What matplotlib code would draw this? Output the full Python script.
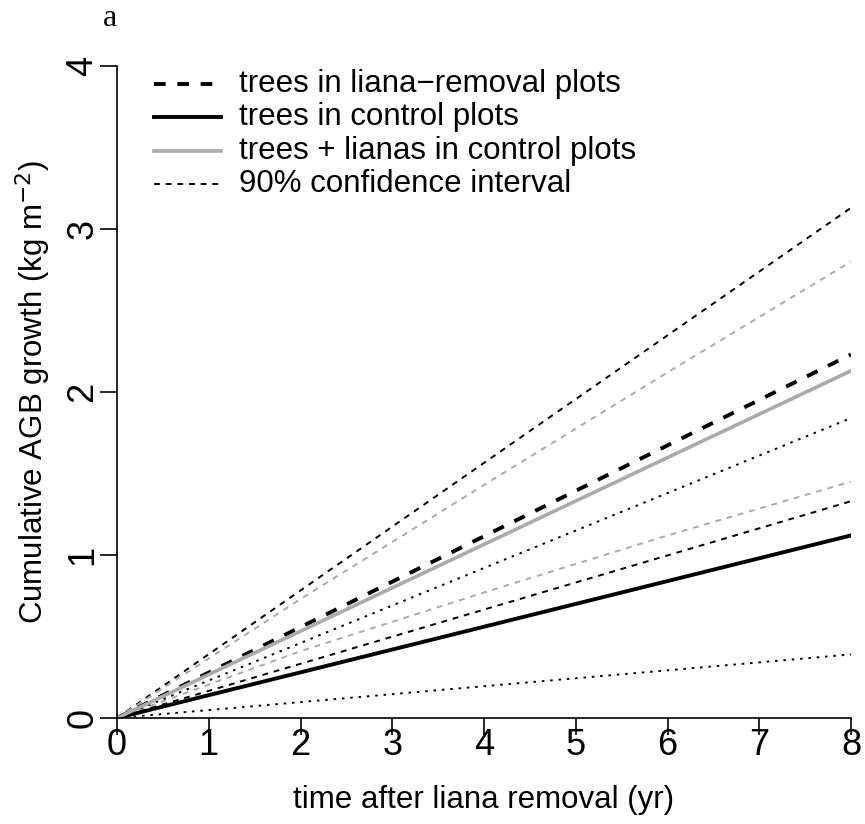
import matplotlib
matplotlib.use('Agg')
import matplotlib.pyplot as plt

plt.rcParams['font.family'] = ['Liberation Sans', 'DejaVu Sans']

# values (kg m-2)
years = [0, 8]
removal_fit = [0, 2.23]
removal_lo = [0, 1.33]
removal_hi = [0, 3.13]
control_fit = [0, 1.12]
control_lo = [0, 0.39]
control_hi = [0, 1.84]
total_fit = [0, 2.13]
total_years = [0, 2, 4, 6, 8]
total_lo = [0, 0.41, 0.77, 1.12, 1.45]
total_hi = [0, 0.73, 1.43, 2.12, 2.80]

legend_labels = ['trees in liana\u2212removal plots', 'trees in control plots',
                 'trees + lianas in control plots', '90% confidence interval']

gray = '#aaaaaa'
fs = 22.5

fig = plt.figure(figsize=(8.65, 8.24), dpi=100)
ax = fig.add_axes([117 / 865, 106 / 824, 734 / 865, 652 / 824])

# confidence intervals
ax.plot(years, removal_hi, color='black', lw=1.4, ls=(0, (3, 3)))
ax.plot(years, removal_lo, color='black', lw=1.4, ls=(0, (3, 3)))
ax.plot(total_years, total_hi, color=gray, lw=1.4, ls=(0, (3, 3)))
ax.plot(total_years, total_lo, color=gray, lw=1.4, ls=(0, (3, 3)))
ax.plot(years, control_hi, color='black', lw=1.4, ls=(0, (1.3, 3)))
ax.plot(years, control_lo, color='black', lw=1.4, ls=(0, (1.3, 3)))

# fitted lines
ax.plot(years, removal_fit, color='black', lw=2.8, ls=(0, (3, 3)))
ax.plot(years, control_fit, color='black', lw=2.8)
ax.plot(years, total_fit, color=gray, lw=2.6)

ax.set_xlim(0, 8)
ax.set_ylim(0, 4)
ax.set_xticks(range(9))
ax.set_yticks(range(5))
for s in ['top', 'right']:
    ax.spines[s].set_visible(False)
for s in ['left', 'bottom']:
    ax.spines[s].set_linewidth(1.2)
ax.tick_params(length=12, width=1.2, labelsize=26)
ax.tick_params(axis='x', pad=-5)
ax.tick_params(axis='y', pad=0)
for t in ax.get_yticklabels():
    t.set_rotation(90)
    t.set_va('center')

ax.set_xlabel('time after liana removal (yr)', fontsize=fs)
ax.set_ylabel('Cumulative AGB growth (kg m$^{-2}$)', fontsize=fs)
ax.xaxis.set_label_coords(0.5, -0.126)
ax.xaxis.label.set_va('center')
ax.yaxis.set_label_coords(-0.114, 0.5)
ax.yaxis.label.set_va('center')

# legend drawn by hand, R style
styles = [dict(color='black', lw=2.8, ls=(0, (3, 3))),
          dict(color='black', lw=2.8),
          dict(color=gray, lw=2.6),
          dict(color='black', lw=1.4, ls=(0, (3, 3)))]
rows_px = [84, 117, 151, 184]
for lab, st, py in zip(legend_labels, styles, rows_px):
    y = (718 - py) / 652
    ax.plot([(154 - 117) / 734, (221 - 117) / 734], [y, y], transform=ax.transAxes,
            clip_on=False, **st)
    ax.text((239 - 117) / 734, y, lab, transform=ax.transAxes, fontsize=fs, va='center')

fig.text(103 / 865, 1 - 19 / 824, 'a', family='Liberation Serif', fontsize=23, va='center')

fig.savefig('out.png', dpi=100)
